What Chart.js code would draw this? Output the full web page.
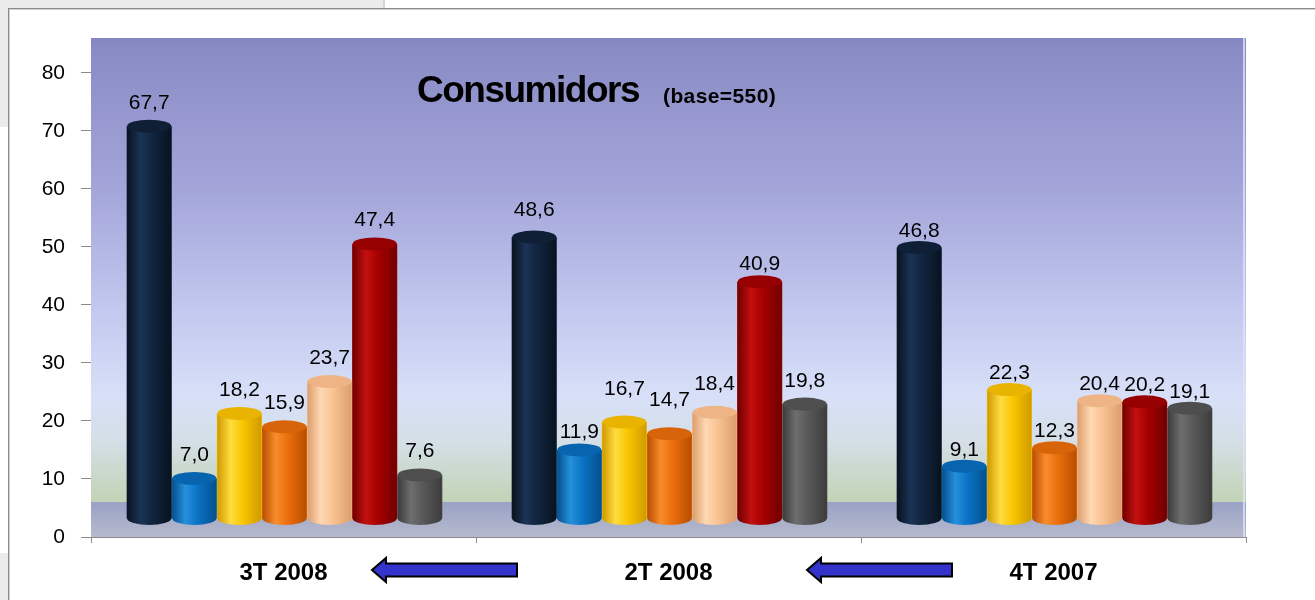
<!DOCTYPE html>
<html><head><meta charset="utf-8">
<script src="https://cdn.jsdelivr.net/npm/chart.js@4/dist/chart.umd.min.js"></script>
<style>
html,body{margin:0;padding:0;background:#fff;width:1315px;height:600px;overflow:hidden;font-family:"Liberation Sans",Arial,sans-serif}
.g1{position:absolute;left:0;top:0;width:383px;height:8px;background:#ebebeb}
.g2{position:absolute;left:0;top:0;width:8px;height:127px;background:#ebebeb}
.g3{position:absolute;left:0;top:553px;width:8px;height:47px;background:#ebebeb}
.g4{position:absolute;left:383px;top:0;width:2px;height:8px;background:#d6d6d6}
.panel{position:absolute;left:8px;top:8px;width:1307px;height:592px;border-top:1px solid #8a8a8a;border-left:1px solid #8a8a8a;box-shadow:inset 1px 1px 0 #d0d0d0;box-sizing:border-box}
canvas{position:absolute;left:0;top:0}
</style></head>
<body>
<div class="g1"></div><div class="g2"></div><div class="g3"></div><div class="g4"></div>
<div class="panel"></div>
<canvas id="c" width="1315" height="600"></canvas>
<script>
// ---- data ----
const categories = ['3T 2008', '2T 2008', '4T 2007'];
const serie1 = [67.7, 48.6, 46.8];
const serie2 = [7.0, 11.9, 9.1];
const serie3 = [18.2, 16.7, 22.3];
const serie4 = [15.9, 14.7, 12.3];
const serie5 = [23.7, 18.4, 20.4];
const serie6 = [47.4, 40.9, 20.2];
const serie7 = [7.6, 19.8, 19.1];
const yTickValues = [0, 10, 20, 30, 40, 50, 60, 70, 80];
const titleText = 'Consumidors';
const subtitleText = '(base=550)';

// ---- styles ----
const seriesData = [serie1, serie2, serie3, serie4, serie5, serie6, serie7];
const palette = [
  {base:'#11243f', light:'#1b3355', dark:'#08131f', cap:'#0e1f36'},
  {base:'#0a72c4', light:'#2590dc', dark:'#04508e', cap:'#0864ae'},
  {base:'#f8c600', light:'#ffdc40', dark:'#d09a00', cap:'#e8b400'},
  {base:'#ea6e0c', light:'#f98c2c', dark:'#b84e00', cap:'#d8640a'},
  {base:'#f8c292', light:'#ffd8b2', dark:'#dc9e6c', cap:'#eeb486'},
  {base:'#a60000', light:'#c21010', dark:'#700000', cap:'#960000'},
  {base:'#585858', light:'#6e6e6e', dark:'#3c3c3c', cap:'#4e4e4e'}
];
const FONT = '"Liberation Sans", Arial, Helvetica, sans-serif';
const DX = 1, DY = -18, RY = 6.5;
const labelGap = [11, 11, 4];
// per-label vertical nudge (style only), rows = series, cols = category
const labelNudge = [
  [0, -4, 0],
  [0, 6, 0],
  [0, -10, 0],
  [0, -10, 0],
  [0, -5, 0],
  [0, 6, 0],
  [0, 0, 0]
];

function fmt(v){ return v.toFixed(1).replace('.', ','); }

const cylPlugin = {
  id: 'cyl',
  beforeDraw(chart){
    const {ctx, chartArea:a} = chart;
    ctx.save();
    const g = ctx.createLinearGradient(0, a.top, 0, a.bottom);
    g.addColorStop(0, '#8486bf');
    g.addColorStop(0.02, '#898bc5');
    g.addColorStop(0.30, '#a3a5d9');
    g.addColorStop(0.55, '#c3c9ef');
    g.addColorStop(0.72, '#d8e0f8');
    g.addColorStop(0.81, '#d4dfe6');
    g.addColorStop(0.92, '#c4d4b8');
    g.addColorStop(1, '#bfd0b0');
    ctx.fillStyle = g;
    ctx.fillRect(a.left, a.top, a.right - a.left, a.bottom - a.top);
    const fy = a.bottom - 35;
    const f = ctx.createLinearGradient(0, fy, 0, a.bottom);
    f.addColorStop(0, '#9aa2c6');
    f.addColorStop(1, '#b6bacd');
    ctx.fillStyle = f;
    ctx.fillRect(a.left, fy, a.right - a.left, a.bottom - fy);
    ctx.fillStyle = 'rgba(220,226,250,0.8)';
    ctx.fillRect(a.right - 3, a.top, 2, a.bottom - a.top);
    ctx.restore();
  },
  beforeDatasetsDraw(chart){
    chart.ctx.save();
    chart.ctx.translate(DX, DY);
  },
  afterDatasetsDraw(chart){
    const ctx = chart.ctx;
    chart.data.datasets.forEach((ds, di) => {
      const meta = chart.getDatasetMeta(di);
      const col = palette[di];
      meta.data.forEach((el, i) => {
        const p = el.getProps(['x','y','base','width'], true);
        const w = p.width - 1, L = p.x - w/2, R = p.x + w/2;
        const gr = ctx.createLinearGradient(L, 0, R, 0);
        gr.addColorStop(0, col.dark);
        gr.addColorStop(0.3, col.light);
        gr.addColorStop(0.58, col.base);
        gr.addColorStop(1, col.dark);
        ctx.beginPath();
        ctx.moveTo(L, p.y);
        ctx.lineTo(L, p.base);
        ctx.ellipse(p.x, p.base, w/2, RY, 0, Math.PI, 0, true);
        ctx.lineTo(R, p.y);
        ctx.closePath();
        ctx.fillStyle = gr;
        ctx.fill();
        ctx.beginPath();
        ctx.ellipse(p.x, p.y, w/2, RY, 0, 0, Math.PI*2);
        ctx.fillStyle = col.cap;
        ctx.fill();
        // value label
        ctx.fillStyle = '#000';
        ctx.font = '21px ' + FONT;
        ctx.textAlign = 'center';
        ctx.textBaseline = 'alphabetic';
        ctx.fillText(fmt(ds.data[i]), p.x, p.y - RY - labelGap[i] + labelNudge[di][i]);
      });
    });
    ctx.restore();

    // title
    ctx.save();
    ctx.fillStyle = '#000';
    ctx.textAlign = 'left';
    ctx.textBaseline = 'alphabetic';
    ctx.font = 'bold 37px ' + FONT;
    if ('letterSpacing' in ctx) ctx.letterSpacing = '-1.5px';
    ctx.fillText(titleText, 417, 102);
    ctx.font = 'bold 21px ' + FONT;
    if ('letterSpacing' in ctx) ctx.letterSpacing = '0.4px';
    ctx.fillText(subtitleText, 663, 103);
    ctx.restore();

    // arrows
    ctx.save();
    const arrow = (tip, end, cy) => {
      ctx.beginPath();
      ctx.moveTo(tip, cy);
      ctx.lineTo(tip + 14, cy - 12);
      ctx.lineTo(tip + 14, cy - 6.5);
      ctx.lineTo(end, cy - 6.5);
      ctx.lineTo(end, cy + 6.5);
      ctx.lineTo(tip + 14, cy + 6.5);
      ctx.lineTo(tip + 14, cy + 12);
      ctx.closePath();
      ctx.fillStyle = '#3434cc';
      ctx.fill();
      ctx.lineWidth = 2;
      ctx.strokeStyle = '#000';
      ctx.lineJoin = 'miter';
      ctx.stroke();
    };
    arrow(372, 517, 570);
    arrow(807, 952, 570);
    ctx.restore();
  }
};

new Chart(document.getElementById('c'), {
  type: 'bar',
  data: {
    labels: categories,
    datasets: seriesData.map((d, i) => ({
      data: d,
      backgroundColor: palette[i].base,
      borderWidth: 0,
      categoryPercentage: 0.82,
      barPercentage: 1.0
    }))
  },
  options: {
    responsive: false,
    devicePixelRatio: 1,
    animation: false,
    layout: {padding: {top: 38, right: 69, left: 0, bottom: 0}},
    plugins: {legend: {display: false}, tooltip: {enabled: false}},
    scales: {
      x: {
        offset: true,
        grid: {display: true, drawOnChartArea: false, offset: true, tickLength: 6, color: '#8c8c8c'},
        border: {display: true, color: '#8c8c8c', width: 1},
        ticks: {color: '#000', font: {family: FONT, size: 24, weight: 'bold'}, padding: 16},
        afterFit: s => { s.height = 63; }
      },
      y: {
        min: 0, max: 86,
        afterBuildTicks: s => { s.ticks = yTickValues.map(v => ({value: v})); },
        grid: {display: true, drawOnChartArea: false, tickLength: 10, color: '#8c8c8c'},
        border: {display: false},
        ticks: {color: '#000', font: {family: FONT, size: 21}, padding: 16},
        afterFit: s => { s.width = 91; }
      }
    }
  },
  plugins: [cylPlugin]
});
</script>
</body></html>
